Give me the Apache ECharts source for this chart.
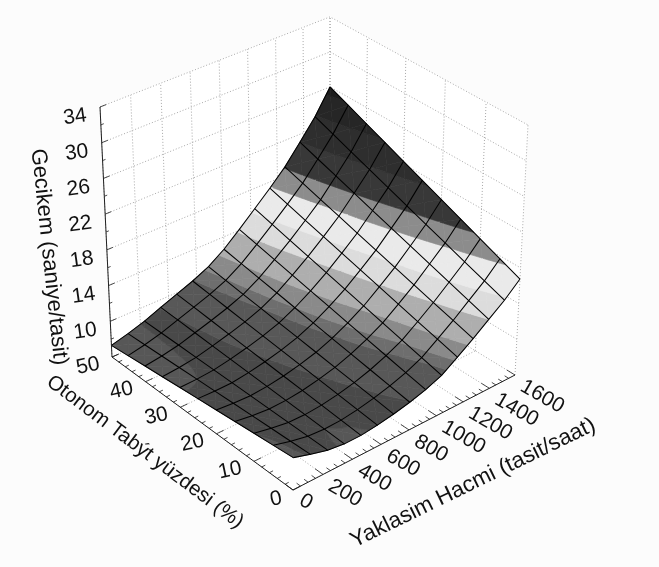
<!DOCTYPE html>
<html><head><meta charset="utf-8">
<style>html,body{margin:0;padding:0;background:#fcfcfc}#c{width:659px;height:567px}</style>
<script src="https://cdn.jsdelivr.net/npm/echarts@6/dist/echarts.min.js"></script></head>
<body><div id="c"></div>
<script>
const volumeGrid=[0,114,229,343,457,571,686,800,914,1029,1143,1257,1371,1486,1600];
const percentGrid=[0,5,10,15,20,25,30,35,40,45,50];
const delayP0 =[9.5,8.9,8.4,8.15,8.15,8.35,8.65,9.05,9.55,10.25,11.4,12.6,13.9,15.2,16.75];
const delayP5 =[9.28,8.79,8.4,8.25,8.32,8.57,8.93,9.41,10.0,10.8,11.99,13.24,14.62,16.01,17.68];
const delayP10=[9.06,8.68,8.4,8.35,8.49,8.79,9.2,9.76,10.46,11.34,12.58,13.88,15.34,16.82,18.6];
const delayP15=[8.84,8.57,8.4,8.45,8.66,9.01,9.48,10.12,10.92,11.89,13.17,14.52,16.06,17.63,19.53];
const delayP20=[8.62,8.46,8.4,8.55,8.83,9.23,9.75,10.47,11.37,12.43,13.76,15.16,16.78,18.44,20.45];
const delayP25=[8.4,8.35,8.4,8.65,9.0,9.45,10.03,10.83,11.83,12.98,14.35,15.8,17.5,19.25,21.38];
const delayP30=[8.18,8.24,8.4,8.75,9.17,9.67,10.3,11.18,12.28,13.52,14.94,16.44,18.22,20.06,22.3];
const delayP35=[7.96,8.13,8.4,8.85,9.34,9.89,10.58,11.54,12.74,14.07,15.53,17.08,18.94,20.87,23.23];
const delayP40=[7.74,8.02,8.4,8.95,9.51,10.11,10.85,11.89,13.19,14.61,16.12,17.72,19.66,21.68,24.15];
const delayP45=[7.52,7.91,8.4,9.05,9.68,10.33,11.13,12.25,13.65,15.16,16.71,18.36,20.38,22.49,25.08];
const delayP50=[7.3,7.8,8.4,9.15,9.85,10.55,11.4,12.6,14.1,15.7,17.3,19,21.1,23.3,26];
const delayRows=[delayP0,delayP5,delayP10,delayP15,delayP20,delayP25,delayP30,delayP35,delayP40,delayP45,delayP50];
const volumeTicks=[0,200,400,600,800,1000,1200,1400,1600];
const percentTicks=[0,10,20,30,40,50];
const delayTicks=[10,14,18,22,26,30,34];
const bandLimits=[0,8.25,9.1,10.6,11.2,12.2,13.9,15.4,17.4,18.9,21.1,23.4,25.3,99];
const bandGrays=['#575757','#494949','#585858','#6e6e6e','#8a8a8a','#aeaeae','#dcdcdc','#eaeaea','#8c8c8c','#383838','#2e2e2e','#262626','#1c1c1c'];
const titleZ='Gecikem (saniye/tasit)',titleP='Otonom Tabýt yüzdesi (%)',titleV='Yaklasim Hacmi (tasit/saat)';
const VMAX=1600,PMAX=50,ZMIN=6,ZMAX=34;
const FONT='"Liberation Sans",Arial,sans-serif';

const low={O:[293,490],A:[515,375],B:[112,357],a:1.0943,b:1.0984};
const high={O:[295.4,231],A:[528,125],B:[100,107],a:1.08,b:1.08};
function plane(q,u,v){
  const den=1+(q.a-1)*u+(q.b-1)*v;
  return [0,1].map(k=>q.O[k]+(u*q.a*(q.A[k]-q.O[k])+v*q.b*(q.B[k]-q.O[k]))/den);
}
function proj(u,v,w){
  const p=plane(low,u,v),t=plane(high,u,v);
  return [p[0]+(t[0]-p[0])*w,p[1]+(t[1]-p[1])*w];
}
const U=x=>x/VMAX,V=x=>x/PMAX,W=z=>(z-ZMIN)/(ZMAX-ZMIN);

const chart=echarts.init(document.getElementById('c'),null,{renderer:'canvas'});
function poly(api,pts,fill){
  return {type:'polygon',shape:{points:pts.map(p=>api.coord(p))},style:{fill:fill,stroke:fill,lineWidth:0.7},silent:true};
}
function line(api,pts,color,width,dash){
  return {type:'polyline',shape:{points:pts.map(p=>api.coord(p))},style:{fill:null,stroke:color,lineWidth:width,lineDash:dash||null},silent:true};
}
function clip(tri,lo,hi){
  let out=tri;
  const cut=(list,keep)=>{
    const res=[];
    for(let i=0;i<list.length;i++){
      const a=list[i],b=list[(i+1)%list.length];
      const ka=keep(a[2]),kb=keep(b[2]);
      if(ka>=0)res.push(a);
      if((ka>=0)!==(kb>=0)){
        const t=ka/(ka-kb);
        res.push([a[0]+(b[0]-a[0])*t,a[1]+(b[1]-a[1])*t,a[2]+(b[2]-a[2])*t]);
      }
    }
    return res;
  };
  out=cut(out,z=>z-lo); if(out.length)out=cut(out,z=>hi-z);
  return out;
}
function renderWalls(params,api){
  const c=[];
  c.push(poly(api,[proj(0,0,0),proj(1,0,0),proj(1,1,0),proj(0,1,0)],'#ffffff'));
  c.push(poly(api,[proj(0,1,0),proj(1,1,0),proj(1,1,1),proj(0,1,1)],'#ffffff'));
  c.push(poly(api,[proj(1,0,0),proj(1,1,0),proj(1,1,1),proj(1,0,1)],'#ffffff'));
  const G='#a8a8a8',D=[1,2];
  volumeTicks.forEach(t=>{const u=U(t);
    c.push(line(api,[proj(u,1,0),proj(u,1,1)],G,1,D));
    c.push(line(api,[proj(u,0,0),proj(u,1,0)],G,1,D));});
  percentTicks.forEach(t=>{const v=V(t);
    c.push(line(api,[proj(1,v,0),proj(1,v,1)],G,1,D));
    c.push(line(api,[proj(0,v,0),proj(1,v,0)],G,1,D));});
  delayTicks.forEach(t=>{const w=W(t);
    c.push(line(api,[proj(0,1,w),proj(1,1,w),proj(1,0,w)],G,1,D));});
  return {type:'group',children:c};
}
function renderCell(params,api){
  const i=api.value(0),j=api.value(1);
  const u0=U(volumeGrid[i]),u1=U(volumeGrid[i+1]),v0=V(percentGrid[j]),v1=V(percentGrid[j+1]);
  const a=[u0,v0,delayRows[j][i]],b=[u1,v0,delayRows[j][i+1]],c=[u1,v1,delayRows[j+1][i+1]],d=[u0,v1,delayRows[j+1][i]];
  const m=[(u0+u1)/2,(v0+v1)/2,(a[2]+b[2]+c[2]+d[2])/4];
  const kids=[];
  [[a,b,m],[b,c,m],[c,d,m],[d,a,m]].forEach(tri=>{
    for(let k=0;k<bandGrays.length;k++){
      const o=clip(tri,bandLimits[k],bandLimits[k+1]);
      if(o.length>=3)kids.push(poly(api,o.map(p=>proj(p[0],p[1],W(p[2]))),bandGrays[k]));
    }
  });
  return {type:'group',children:kids};
}
function renderMesh(params,api){
  const c=[];
  volumeGrid.forEach((g,i)=>c.push(line(api,percentGrid.map((p,j)=>proj(U(g),V(p),W(delayRows[j][i]))),'#000000',1.05)));
  percentGrid.forEach((p,j)=>c.push(line(api,volumeGrid.map((g,i)=>proj(U(g),V(p),W(delayRows[j][i]))),'#000000',1.05)));
  return {type:'group',children:c};
}
function renderAxes(params,api){
  const c=[],K='#202020';
  c.push(line(api,[proj(0,1,1),proj(0,1,0),proj(0,0,0),proj(1,0,0)],K,1));
  for(let t=0;t<=VMAX;t+=50){const big=t%200===0,u=U(t);
    c.push(line(api,[proj(u,0,0),proj(u,big?0.04:0.02,0)],K,0.8));}
  for(let t=0;t<=PMAX;t+=2){const big=t%10===0,v=V(t);
    c.push(line(api,[proj(0,v,0),proj(big?0.03:0.015,v,0)],K,0.8));}
  for(let t=ZMIN;t<=ZMAX;t+=2){const big=(t-10)%4===0,w=W(t);
    c.push(line(api,[proj(0,1,w),proj(big?0.025:0.012,1,w)],K,0.8));}
  return {type:'group',children:c};
}
function txt(api,s,p,rot,size,align,dx,dy){
  const q=api.coord(p);
  return {type:'text',x:q[0]+dx,y:q[1]+dy,rotation:rot*Math.PI/180,silent:true,
    style:{text:s,fill:'#111',font:size+'px '+FONT,textAlign:align,textVerticalAlign:'middle'}};
}
function renderLabels(params,api){
  const c=[];
  delayTicks.forEach(t=>c.push(txt(api,String(t),proj(0,1,W(t)),8,21,'center',-25,10)));
  percentTicks.forEach(t=>c.push(txt(api,String(t),proj(0,V(t),0),12,21,'center',t?-24:-17,9)));
  volumeTicks.forEach(t=>c.push(txt(api,String(t),proj(U(t),0,0),-30,21,'left',t?7:8,t?10:9)));
  c.push(txt(api,titleZ,[49,257],-84,22,'center',0,0));
  c.push(txt(api,titleP,[145,452],-37,20.5,'center',0,0));
  c.push(txt(api,titleV,[473,483],26,22.4,'center',0,0));
  return {type:'group',children:c};
}
const cells=[];
for(let i=volumeGrid.length-2;i>=0;i--)for(let j=percentGrid.length-2;j>=0;j--)cells.push([i,j]);
const custom=(fn,data,z)=>({type:'custom',renderItem:fn,data:data,z:z,silent:true,animation:false,clip:false,encode:{x:0,y:1}});
chart.setOption({
  animation:false,backgroundColor:'#fcfcfc',
  grid:{left:0,right:0,top:0,bottom:0},
  xAxis:{type:'value',min:0,max:659,show:false},
  yAxis:{type:'value',min:0,max:567,inverse:true,show:false},
  series:[
    custom(renderWalls,[[0,0]],1),
    custom(renderCell,cells,2),
    custom(renderMesh,[[0,0]],3),
    custom(renderAxes,[[0,0]],4),
    custom(renderLabels,[[0,0]],5)
  ]
});
</script></body></html>
